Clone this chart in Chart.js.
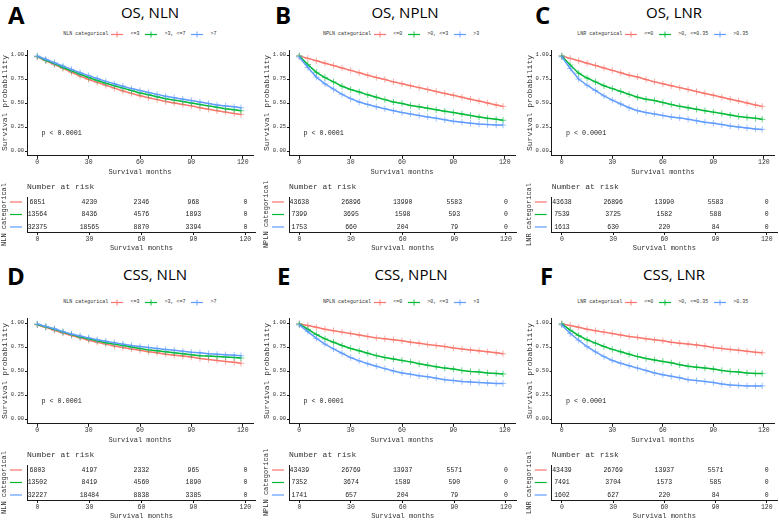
<!DOCTYPE html>
<html><head><meta charset="utf-8">
<script src="https://cdn.jsdelivr.net/npm/chart.js@4.4.1/dist/chart.umd.min.js"></script>
<style>
html,body{margin:0;padding:0;background:#fff}
#page{position:relative;width:779px;height:522px;overflow:hidden;background:#fff}
canvas{position:absolute;display:block}
.letter{position:absolute;font-family:"Open Sans";font-weight:700;font-size:24px;line-height:24px;color:#000}
.title{position:absolute;font-family:"Open Sans";font-size:15px;line-height:15px;color:#000;white-space:nowrap;transform:translateX(-50%)}
.legend{position:absolute;height:8px;display:flex;justify-content:center;align-items:center;font-family:"Liberation Mono",monospace;font-size:5px;line-height:8px;color:#333;white-space:nowrap}
.legend svg{margin-left:3px;margin-right:7px;display:block}
.legend .lab{margin-right:3px}
</style></head><body><div id="page"></div>
<script>
// ---------------- data ----------------
const months = [0,5,10,15,20,25,30,35,40,45,50,55,60,65,70,75,80,85,90,95,100,105,110,115,119];
const riskMonths = [0,30,60,90,120];
const xTicks = [0,30,60,90,120];
const yTicks = [0,0.25,0.5,0.75,1];

const nlnLabels = ['<=3','>3, <=7','>7'];
const nplnLabels = ['<=0','>0, <=3','>3'];
const lnrLabels = ['<=0','>0, <=0.35','>0.35'];

// A: OS, NLN
const osNlnLe3   = [.98,.94,.90,.86,.82,.78,.745,.715,.685,.655,.625,.60,.575,.555,.535,.515,.50,.485,.47,.45,.435,.42,.405,.39,.38];
const osNlnGt3Le7= [.985,.945,.91,.87,.835,.80,.765,.735,.705,.68,.655,.63,.605,.585,.565,.545,.53,.515,.50,.485,.47,.455,.44,.43,.42];
const osNlnGt7   = [.99,.955,.92,.885,.85,.815,.785,.755,.725,.70,.675,.65,.63,.61,.59,.57,.555,.54,.525,.51,.495,.48,.47,.46,.45];
const osNlnRiskLe3    = [6851,4230,2346,968,0];
const osNlnRiskGt3Le7 = [13564,8436,4576,1893,0];
const osNlnRiskGt7    = [32375,18565,8870,3394,0];

// B: OS, NPLN
const osNplnLe0   = [.99,.965,.94,.915,.89,.865,.84,.815,.79,.765,.745,.72,.70,.68,.66,.64,.62,.60,.58,.56,.54,.52,.50,.48,.465];
const osNplnGt0Le3= [.99,.90,.82,.765,.72,.675,.64,.615,.585,.56,.535,.51,.495,.475,.46,.445,.43,.415,.40,.385,.37,.355,.34,.33,.32];
const osNplnGt3   = [.98,.87,.77,.70,.645,.59,.545,.51,.485,.46,.44,.42,.40,.385,.37,.355,.34,.325,.31,.30,.29,.28,.275,.27,.27];
const osNplnRiskLe0    = [43638,26896,13990,5583,0];
const osNplnRiskGt0Le3 = [7399,3695,1598,593,0];
const osNplnRiskGt3    = [1753,660,204,79,0];

// C: OS, LNR
const osLnrLe0      = [.99,.965,.94,.915,.89,.865,.84,.815,.79,.77,.745,.72,.70,.68,.66,.64,.62,.60,.58,.56,.54,.52,.50,.48,.465];
const osLnrGt0Le035 = [.99,.895,.81,.76,.72,.68,.65,.62,.59,.56,.54,.525,.505,.485,.465,.45,.435,.42,.405,.39,.375,.36,.35,.34,.33];
const osLnrGt035    = [.98,.86,.75,.685,.63,.575,.53,.49,.45,.42,.40,.385,.37,.355,.345,.33,.315,.30,.29,.275,.26,.25,.24,.23,.225];
const osLnrRiskLe0      = [43638,26896,13990,5583,0];
const osLnrRiskGt0Le035 = [7539,3725,1582,588,0];
const osLnrRiskGt035    = [1613,630,220,84,0];

// D: CSS, NLN
const cssNlnLe3   = [.98,.955,.925,.895,.87,.845,.82,.80,.78,.76,.745,.73,.715,.70,.69,.675,.665,.655,.645,.63,.62,.61,.60,.59,.58];
const cssNlnGt3Le7= [.985,.96,.935,.905,.88,.855,.835,.815,.795,.78,.765,.75,.735,.72,.71,.70,.69,.68,.67,.66,.655,.65,.645,.64,.635];
const cssNlnGt7   = [.99,.965,.94,.91,.885,.865,.845,.825,.81,.795,.78,.765,.755,.745,.735,.725,.715,.705,.695,.69,.68,.675,.67,.665,.66];
const cssNlnRiskLe3    = [6803,4197,2332,965,0];
const cssNlnRiskGt3Le7 = [13502,8419,4560,1890,0];
const cssNlnRiskGt7    = [32227,18484,8838,3385,0];

// E: CSS, NPLN
const cssNplnLe0   = [.99,.975,.955,.935,.92,.905,.89,.875,.86,.845,.835,.825,.815,.80,.79,.775,.765,.755,.74,.73,.72,.71,.70,.69,.68];
const cssNplnGt0Le3= [.99,.935,.88,.835,.80,.765,.735,.71,.685,.66,.64,.625,.61,.595,.575,.56,.545,.53,.52,.505,.495,.49,.48,.475,.47];
const cssNplnGt3   = [.98,.91,.84,.78,.73,.685,.64,.605,.575,.55,.525,.50,.48,.465,.45,.44,.425,.41,.40,.39,.385,.38,.375,.37,.37];
const cssNplnRiskLe0    = [43439,26769,13937,5571,0];
const cssNplnRiskGt0Le3 = [7352,3674,1589,590,0];
const cssNplnRiskGt3    = [1741,657,204,79,0];

// F: CSS, LNR
const cssLnrLe0      = [.99,.975,.955,.935,.92,.905,.89,.875,.86,.85,.835,.825,.815,.80,.79,.78,.77,.76,.745,.735,.725,.715,.705,.695,.69];
const cssLnrGt0Le035 = [.99,.925,.87,.825,.79,.755,.725,.70,.675,.65,.63,.615,.60,.585,.565,.55,.54,.53,.52,.505,.495,.49,.48,.475,.475];
const cssLnrGt035    = [.98,.89,.82,.755,.70,.65,.61,.58,.555,.53,.505,.48,.46,.445,.43,.41,.40,.39,.38,.365,.355,.35,.345,.345,.345];
const cssLnrRiskLe0      = [43439,26769,13937,5571,0];
const cssLnrRiskGt0Le035 = [7491,3704,1573,585,0];
const cssLnrRiskGt035    = [1602,627,220,84,0];

const pvalText = 'p < 0.0001';
const pvalPos = [2.5, 0.19];

// ---------------- styling / layout ----------------
const FONT = '"Liberation Mono", monospace';
const TXT = '#333';
const AXIS = '#1a1a1a';
const colors = ['#F8766D','#00BA38','#619CFF'];

const cols = [
  {left:0,   yw:27,   plotW:228.8, w:258},
  {left:262, yw:27,   plotW:227.3, w:258},
  {left:525, yw:26.7, plotW:225.3, w:254}
];
const rows = [
  {off:0,   letterTop:2.8, titleTop:5.4},
  {off:268, letterTop:264, titleTop:267.4}
];

const panels = [
  {letter:'A', letterX:8,   title:'OS, NLN',   titleX:150, col:0, row:0, group:'NLN categorical',  labels:nlnLabels,
   curves:[osNlnLe3, osNlnGt3Le7, osNlnGt7], risk:[osNlnRiskLe3, osNlnRiskGt3Le7, osNlnRiskGt7]},
  {letter:'B', letterX:275, title:'OS, NPLN',  titleX:405, col:1, row:0, group:'NPLN categorical', labels:nplnLabels,
   curves:[osNplnLe0, osNplnGt0Le3, osNplnGt3], risk:[osNplnRiskLe0, osNplnRiskGt0Le3, osNplnRiskGt3]},
  {letter:'C', letterX:535, title:'OS, LNR',   titleX:674, col:2, row:0, group:'LNR categorical',  labels:lnrLabels,
   curves:[osLnrLe0, osLnrGt0Le035, osLnrGt035], risk:[osLnrRiskLe0, osLnrRiskGt0Le035, osLnrRiskGt035]},
  {letter:'D', letterX:7,   title:'CSS, NLN',  titleX:155, col:0, row:1, group:'NLN categorical',  labels:nlnLabels,
   curves:[cssNlnLe3, cssNlnGt3Le7, cssNlnGt7], risk:[cssNlnRiskLe3, cssNlnRiskGt3Le7, cssNlnRiskGt7]},
  {letter:'E', letterX:277, title:'CSS, NPLN', titleX:411, col:1, row:1, group:'NPLN categorical', labels:nplnLabels,
   curves:[cssNplnLe0, cssNplnGt0Le3, cssNplnGt3], risk:[cssNplnRiskLe0, cssNplnRiskGt0Le3, cssNplnRiskGt3]},
  {letter:'F', letterX:540, title:'CSS, LNR',  titleX:674, col:2, row:1, group:'LNR categorical',  labels:lnrLabels,
   curves:[cssLnrLe0, cssLnrGt0Le035, cssLnrGt035], risk:[cssLnrRiskLe0, cssLnrRiskGt0Le035, cssLnrRiskGt035]}
];

const page = document.getElementById('page');

function xScale(h){
  return {
    type:'linear', min:-6, max:126,
    afterBuildTicks: s => { s.ticks = xTicks.map(v => ({value:v})); },
    grid:{display:true, drawOnChartArea:false, drawTicks:true, tickLength:3, color:AXIS, lineWidth:1},
    border:{display:true, color:AXIS, width:1},
    ticks:{font:{family:FONT, size:6.5}, color:TXT, padding:0, maxRotation:0, autoSkip:false},
    title:{display:true, text:'Survival months', font:{family:FONT, size:7}, color:TXT, padding:{top:0, bottom:2}},
    afterFit: s => { s.height = h; }
  };
}

const pvalPlugin = {
  id:'pval',
  afterDatasetsDraw(chart){
    const {ctx, scales:{x, y}} = chart;
    ctx.save();
    ctx.font = '6.7px ' + FONT;
    ctx.fillStyle = '#222';
    ctx.textAlign = 'left';
    ctx.textBaseline = 'middle';
    ctx.fillText(pvalText, x.getPixelForValue(pvalPos[0]), y.getPixelForValue(pvalPos[1]));
    ctx.restore();
  }
};

const riskPlugin = {
  id:'risk',
  afterDatasetsDraw(chart){
    const {ctx, chartArea, scales:{y}} = chart;
    ctx.save();
    chart.data.datasets.forEach((ds, i) => {
      const meta = chart.getDatasetMeta(i);
      ctx.font = '6.5px ' + FONT;
      ctx.fillStyle = '#222';
      ctx.textAlign = 'center';
      ctx.textBaseline = 'middle';
      meta.data.forEach((el, k) => ctx.fillText(String(ds.data[k].n), el.x, el.y));
      const yy = y.getPixelForValue(ds.data[0].y);
      ctx.strokeStyle = ds.keyColor;
      ctx.lineWidth = 1.2;
      ctx.beginPath();
      ctx.moveTo(chartArea.left - 17, yy);
      ctx.lineTo(chartArea.left - 5, yy);
      ctx.stroke();
    });
    ctx.font = '8px ' + FONT;
    ctx.textAlign = 'left';
    ctx.textBaseline = 'middle';
    ctx.fillStyle = TXT;
    ctx.fillText('Number at risk', chartArea.left, chartArea.top - 10);
    ctx.restore();
  }
};

function legendSymbol(color){
  const ns = 'http://www.w3.org/2000/svg';
  const svg = document.createElementNS(ns, 'svg');
  svg.setAttribute('width', '12'); svg.setAttribute('height', '7');
  const l = document.createElementNS(ns, 'path');
  l.setAttribute('d', 'M0 3.5H12'); l.setAttribute('stroke', color); l.setAttribute('stroke-width', '1.2');
  const c = document.createElementNS(ns, 'path');
  c.setAttribute('d', 'M6 0.5V6.5M3 3.5H9'); c.setAttribute('stroke', color); c.setAttribute('stroke-width', '0.9');
  svg.appendChild(l); svg.appendChild(c);
  return svg;
}

panels.forEach(p => {
  const c = cols[p.col], r = rows[p.row];

  const L = document.createElement('div');
  L.className = 'letter'; L.textContent = p.letter;
  L.style.left = p.letterX + 'px'; L.style.top = r.letterTop + 'px';
  page.appendChild(L);

  const T = document.createElement('div');
  T.className = 'title'; T.textContent = p.title;
  T.style.left = p.titleX + 'px'; T.style.top = r.titleTop + 'px';
  page.appendChild(T);

  const lg = document.createElement('div');
  lg.className = 'legend';
  lg.style.left = (c.left + c.yw) + 'px';
  lg.style.width = c.plotW + 'px';
  lg.style.top = (30 + r.off) + 'px';
  const gt = document.createElement('span'); gt.textContent = p.group; lg.appendChild(gt);
  p.labels.forEach((lab, i) => {
    lg.appendChild(legendSymbol(colors[i]));
    const s = document.createElement('span'); s.className = 'lab'; s.textContent = lab; lg.appendChild(s);
  });
  page.appendChild(lg);

  // Kaplan-Meier chart
  const km = document.createElement('canvas');
  km.width = c.w; km.height = 133;
  km.style.left = c.left + 'px'; km.style.top = (45 + r.off) + 'px';
  page.appendChild(km);
  new Chart(km, {
    type:'scatter',
    data:{datasets: p.curves.map((vals, i) => ({
      label: p.labels[i],
      data: months.map((m, k) => ({x:m, y:vals[k]})),
      showLine:true, borderColor:colors[i], borderWidth:1.5,
      pointStyle:'cross', pointRadius:3.2, pointBorderWidth:1,
      pointBorderColor: colors[i] + '99', pointBackgroundColor: colors[i],
      order: 2 - i
    }))},
    options:{
      responsive:false, animation:false, events:[],
      layout:{padding:{top:5.2, right:c.w - c.yw - c.plotW, bottom:0, left:0}},
      plugins:{legend:{display:false}, tooltip:{enabled:false}},
      scales:{
        x: xScale(22.2),
        y: {
          type:'linear', min:-0.05, max:1.05,
          afterBuildTicks: s => { s.ticks = yTicks.map(v => ({value:v})); },
          grid:{display:true, drawOnChartArea:false, drawTicks:true, tickLength:2, color:AXIS},
          border:{display:true, color:AXIS, width:1},
          ticks:{font:{family:FONT, size:5.5}, color:TXT, padding:1, callback: v => Number(v).toFixed(2)},
          title:{display:true, text:'Survival probability', font:{family:FONT, size:8}, color:TXT, padding:{top:0, bottom:0}},
          afterFit: s => { s.width = c.yw; }
        }
      }
    },
    plugins:[pvalPlugin]
  });

  // Number at risk table
  const tb = document.createElement('canvas');
  tb.width = c.w; tb.height = 74;
  tb.style.left = c.left + 'px'; tb.style.top = (180 + r.off) + 'px';
  page.appendChild(tb);
  new Chart(tb, {
    type:'scatter',
    data:{datasets: p.risk.map((counts, i) => ({
      label: p.labels[i],
      keyColor: colors[i],
      data: riskMonths.map((m, k) => ({x:m, y:3 - i, n:counts[k]})),
      pointRadius:0, showLine:false
    }))},
    options:{
      responsive:false, animation:false, events:[],
      layout:{padding:{top:17, right:c.w - c.yw - c.plotW, bottom:0, left:0}},
      plugins:{legend:{display:false}, tooltip:{enabled:false}},
      scales:{
        x: xScale(22),
        y: {
          type:'linear', min:0.6, max:3.4,
          afterBuildTicks: s => { s.ticks = [1,2,3].map(v => ({value:v})); },
          grid:{display:false},
          border:{display:true, color:AXIS, width:1},
          ticks:{callback: () => '', padding:0},
          title:{display:true, text:p.group, font:{family:FONT, size:7}, color:TXT, padding:{top:0, bottom:0}},
          afterFit: s => { s.width = c.yw; }
        }
      }
    },
    plugins:[riskPlugin]
  });
});
</script></body></html>
